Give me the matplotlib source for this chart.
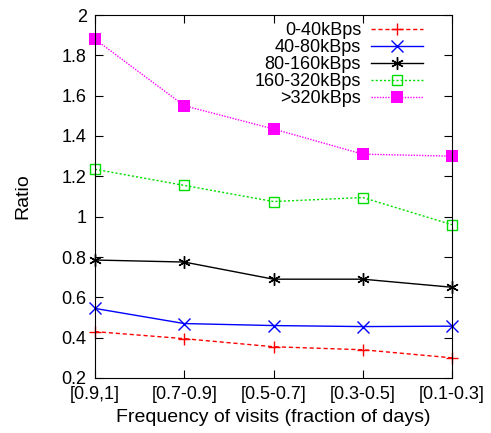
import numpy as np
import matplotlib.pyplot as plt

plt.rcParams['font.family'] = ['Liberation Sans', 'DejaVu Sans']

categories = ['[0.9,1]', '[0.7-0.9]', '[0.5-0.7]', '[0.3-0.5]', '[0.1-0.3]']
r_0_40 = [0.43, 0.395, 0.355, 0.34, 0.30]
r_40_80 = [0.545, 0.47, 0.46, 0.455, 0.457]
r_80_160 = [0.785, 0.775, 0.69, 0.69, 0.65]
r_160_320 = [1.235, 1.155, 1.075, 1.095, 0.96]
r_320 = [1.88, 1.55, 1.435, 1.31, 1.30]

x = np.arange(len(categories))

fig = plt.figure(figsize=(4.91, 4.33), dpi=100)
ax = fig.add_axes([95 / 491, 1 - 378 / 433, (452 - 95) / 491, (378 - 15) / 433])

ax.plot(x, r_0_40, color='red', ls=(0, (3, 2)), lw=1, marker='+', ms=9, mew=1, label='0-40kBps', clip_on=False)
ax.plot(x, r_40_80, color='blue', ls='-', lw=1, marker='x', ms=8, mew=1, label='40-80kBps', clip_on=False)
ax.plot(x, r_80_160, color='black', ls='-', lw=1, marker=(6, 2, 0), ms=9, mew=1, label='80-160kBps', clip_on=False)
ax.plot(x, r_160_320, color='#00dd00', ls=(0, (1.5, 1.5)), lw=1, marker='s', ms=7.5, mew=1,
        mfc='none', label='160-320kBps', clip_on=False)
ax.plot(x, r_320, color='magenta', ls=(0, (1, 1)), lw=1, marker='s', ms=9, mew=0,
        label='>320kBps', clip_on=False)

ax.set_xlim(0, 4)
ax.set_ylim(0.2, 2.0)
ax.set_xticks(x)
ax.set_xticklabels(categories)
ax.set_yticks(np.arange(0.2, 2.01, 0.2))
ax.set_yticklabels(['0.2', '0.4', '0.6', '0.8', '1', '1.2', '1.4', '1.6', '1.8', '2'])
ax.tick_params(direction='in', top=True, right=True, length=6, labelsize=13, pad=6)
ax.set_xlabel('Frequency of visits (fraction of days)', fontsize=14)
ax.set_ylabel('Ratio', fontsize=14, labelpad=22)

leg = ax.legend(loc='upper right', frameon=False, fontsize=13, markerfirst=False,
                handlelength=2.9, labelspacing=0.0, borderaxespad=0.0, handletextpad=0.55,
                bbox_to_anchor=(0.94, 1.0))

fig.savefig('out.png', dpi=100)
